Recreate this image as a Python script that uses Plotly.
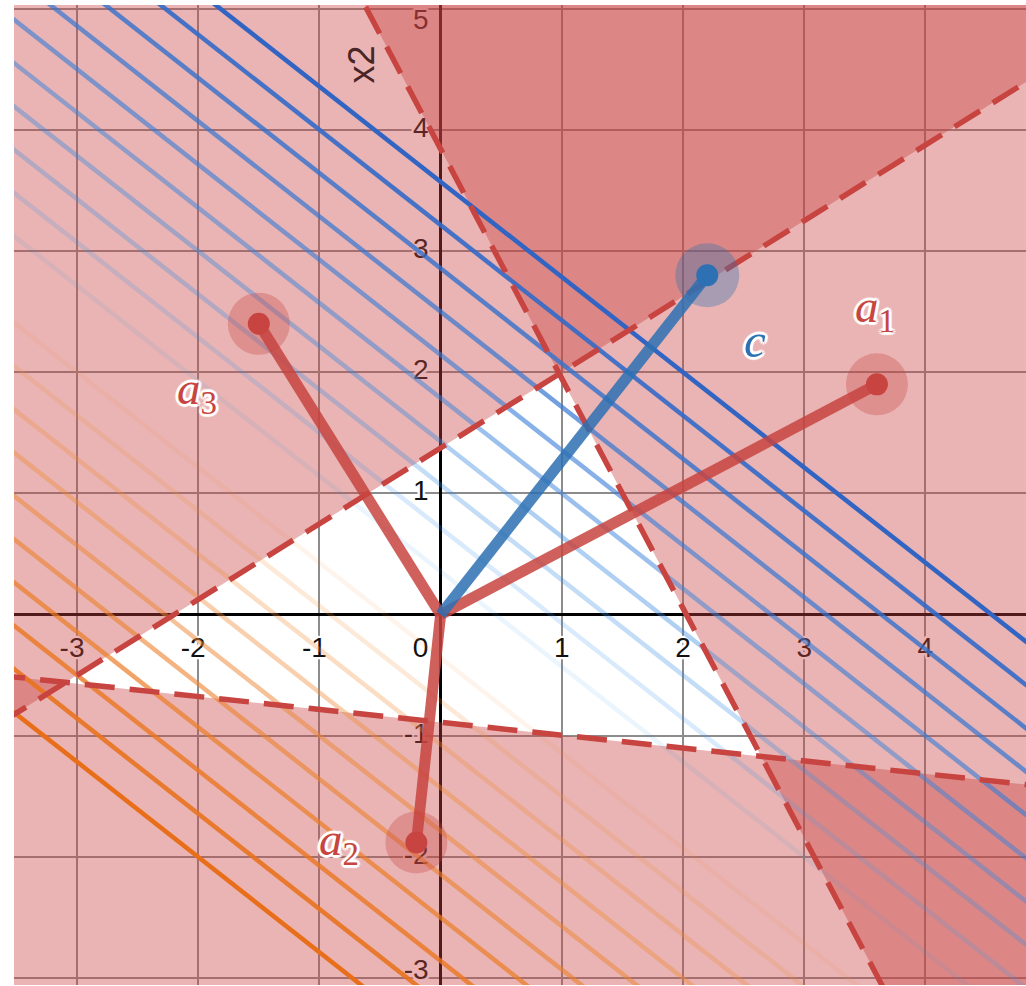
import numpy as np
import plotly.graph_objects as go

# ---- data -------------------------------------------------------------
a_labels = ["1", "2", "3"]
a_x = [3.6, -0.2, -1.5]          # constraint normals a_i (x component)
a_y = [1.9, -1.88, 2.4]          # constraint normals a_i (y component)
b_vals = [7.3, 1.67, 3.3]        # a_i . x <= b_i
c_vec = [2.2, 2.8]               # objective direction c
levels = list(range(-10, 11))    # contour levels c . x = k
x_ticks = [-3, -2, -1, 0, 1, 2, 3, 4]
y_ticks = [-3, -2, -1, 1, 2, 3, 4, 5]

# ---- view -------------------------------------------------------------
X_RANGE = [-3.52, 4.83]
Y_RANGE = [-3.056, 5.03]
W, H = 1026, 986
MARGIN = dict(l=14, r=0, t=5, b=1)
PX = (W - MARGIN["l"] - MARGIN["r"]) / (X_RANGE[1] - X_RANGE[0])  # px per unit

RED = (199, 68, 64)
BLUE = (45, 112, 179)


def rgba(c, a=1.0):
    return f"rgba({int(round(c[0]))},{int(round(c[1]))},{int(round(c[2]))},{a:.3f})"


def lerp(c0, c1, t):
    return tuple(c0[i] + (c1[i] - c0[i]) * t for i in range(3))


def line_points(nx, ny, b, pad=2.0):
    """Two far-apart points on the line nx*x + ny*y = b."""
    if abs(ny) >= abs(nx):
        xs = np.array([X_RANGE[0] - pad, X_RANGE[1] + pad])
        ys = (b - nx * xs) / ny
    else:
        ys = np.array([Y_RANGE[0] - pad, Y_RANGE[1] + pad])
        xs = (b - ny * ys) / nx
    return xs, ys


def clip_halfplane(poly, nx, ny, b):
    """Keep the part of a polygon where nx*x + ny*y >= b."""
    out = []
    n = len(poly)
    for i in range(n):
        p, q = poly[i], poly[(i + 1) % n]
        fp = nx * p[0] + ny * p[1] - b
        fq = nx * q[0] + ny * q[1] - b
        if fp >= 0:
            out.append(p)
        if fp * fq < 0:
            t = fp / (fp - fq)
            out.append((p[0] + t * (q[0] - p[0]), p[1] + t * (q[1] - p[1])))
    return out


fig = go.Figure()

# ---- tick labels (drawn beneath the shaded regions) --------------------
halo = ", ".join(f"{dx}px {dy}px 1px #ffffff" for dx, dy in
                 [(2, 0), (-2, 0), (0, 2), (0, -2), (2, 2), (-2, -2), (2, -2), (-2, 2)])
tx, ty, tt, tp = [], [], [], []
for v in x_ticks:
    if v == 0:
        tx.append(-20 / PX)
    elif v < 0:
        tx.append(v - 5 / PX)
    else:
        tx.append(v)
    ty.append(-35 / PX)
    tt.append(str(v))
    tp.append("middle center")
for v in y_ticks:
    tx.append(-12 / PX)
    ty.append(min(max(v, Y_RANGE[0] + 13 / PX), Y_RANGE[1] - 17 / PX))
    tt.append(str(v))
    tp.append("middle left")
fig.add_trace(go.Scatter(x=tx, y=ty, mode="text", text=tt, textposition=tp,
                         textfont=dict(family="Liberation Sans", size=28, color="#111111",
                                       shadow=halo),
                         hoverinfo="skip"))

# ---- infeasible half-planes a_i . x > b_i -------------------------------
box = [(X_RANGE[0] - 1, Y_RANGE[0] - 1), (X_RANGE[1] + 1, Y_RANGE[0] - 1),
       (X_RANGE[1] + 1, Y_RANGE[1] + 1), (X_RANGE[0] - 1, Y_RANGE[1] + 1)]
for ax_, ay_, b in zip(a_x, a_y, b_vals):
    poly = clip_halfplane(box, ax_, ay_, b)
    px_ = [p[0] for p in poly] + [poly[0][0]]
    py_ = [p[1] for p in poly] + [poly[0][1]]
    fig.add_trace(go.Scatter(x=px_, y=py_, mode="lines", fill="toself",
                             fillcolor=rgba(RED, 0.4), line=dict(width=0),
                             hoverinfo="skip"))

# ---- objective contour lines c . x = k ---------------------------------
kmax = max(abs(v) for v in levels)
for k in levels:
    if k == 0:
        continue
    t = abs(k) / kmax
    if k > 0:
        col = lerp((60, 160, 245), (50, 100, 195), t)
    else:
        col = lerp((245, 155, 70), (232, 110, 25), t)
    xs, ys = line_points(c_vec[0], c_vec[1], k)
    fig.add_trace(go.Scatter(x=xs, y=ys, mode="lines",
                             line=dict(color=rgba(col, t), width=4.5),
                             hoverinfo="skip"))

# ---- dashed boundaries a_i . x = b_i ------------------------------------
for ax_, ay_, b in zip(a_x, a_y, b_vals):
    xs, ys = line_points(ax_, ay_, b)
    fig.add_trace(go.Scatter(x=xs, y=ys, mode="lines",
                             line=dict(color=rgba(RED, 1), width=5.5, dash="30px,15px"),
                             hoverinfo="skip"))

# ---- vectors from the origin -------------------------------------------
for ax_, ay_ in zip(a_x, a_y):
    fig.add_trace(go.Scatter(x=[0, ax_], y=[0, ay_], mode="lines",
                             line=dict(color=rgba(RED, 0.85), width=11),
                             hoverinfo="skip"))
fig.add_trace(go.Scatter(x=[0, c_vec[0]], y=[0, c_vec[1]], mode="lines",
                         line=dict(color=rgba(BLUE, 0.85), width=11),
                         hoverinfo="skip"))

# ---- points with halos --------------------------------------------------
fig.add_trace(go.Scatter(x=a_x, y=a_y, mode="markers",
                         marker=dict(size=62, color=rgba(RED, 0.32), line=dict(width=0)),
                         hoverinfo="skip"))
fig.add_trace(go.Scatter(x=[c_vec[0]], y=[c_vec[1]], mode="markers",
                         marker=dict(size=64, color=rgba(BLUE, 0.35), line=dict(width=0)),
                         hoverinfo="skip"))
fig.add_trace(go.Scatter(x=a_x, y=a_y, mode="markers",
                         marker=dict(size=22, color=rgba(RED, 1), line=dict(width=0)),
                         hoverinfo="skip"))
fig.add_trace(go.Scatter(x=[c_vec[0]], y=[c_vec[1]], mode="markers",
                         marker=dict(size=22, color=rgba(BLUE, 1), line=dict(width=0)),
                         hoverinfo="skip"))

# ---- point labels -------------------------------------------------------
outline = ", ".join(f"{dx}px {dy}px 1px #ffffff" for dx, dy in
                    [(3, 0), (-3, 0), (0, 3), (0, -3), (2, 2), (-2, -2), (2, -2), (-2, 2)])
label_shift = [(-2, 75), (-77, 0), (-62, -68)]
for name, ax_, ay_, (sx, sy) in zip(a_labels, a_x, a_y, label_shift):
    fig.add_annotation(x=ax_, y=ay_, xshift=sx, yshift=sy, showarrow=False,
                       text=f"<i>a</i><sub>{name}</sub>",
                       font=dict(family="Liberation Serif", size=47, color=rgba(RED, 1),
                                 shadow=outline))
fig.add_annotation(x=c_vec[0], y=c_vec[1], xshift=48, yshift=-65, showarrow=False,
                   text="<i>c</i>",
                   font=dict(family="Liberation Serif", size=49, color=rgba(BLUE, 1),
                             shadow=outline))

# axis title
fig.add_annotation(x=0, y=Y_RANGE[1], xshift=-80, yshift=-60, showarrow=False,
                   text="x2", textangle=-90,
                   font=dict(family="Liberation Sans", size=36, color="#4a2525"))

axis_common = dict(showgrid=True, gridcolor="#8c8c8c", gridwidth=2, dtick=1, tick0=0,
                   zeroline=True, zerolinecolor="#000000", zerolinewidth=3,
                   showticklabels=False, ticks="", showline=False, fixedrange=True)
fig.update_xaxes(range=X_RANGE, **axis_common)
fig.update_yaxes(range=Y_RANGE, **axis_common)
fig.update_layout(width=W, height=H, margin=MARGIN, showlegend=False,
                  paper_bgcolor="white", plot_bgcolor="white", hovermode=False)

fig.write_html("out.html")
